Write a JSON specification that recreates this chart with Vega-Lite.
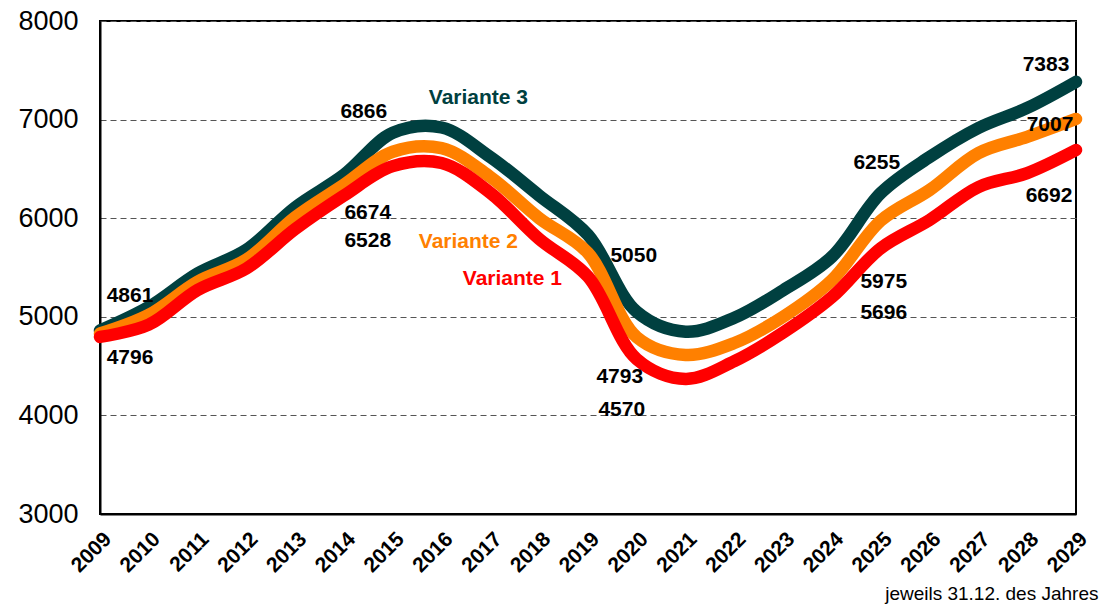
{
  "$schema": "https://vega.github.io/schema/vega-lite/v6.json",
  "width": 976,
  "height": 493,
  "autosize": "none",
  "padding": {"left": 100, "top": 21, "right": 25, "bottom": 92},
  "background": "white",
  "config": {
    "font": "Liberation Sans",
    "view": {"stroke": "black", "strokeWidth": 2}
  },
  "data": {
    "values": [
      {"series": "Variante 3", "year": 2009, "value": 4861},
      {"series": "Variante 3", "year": 2010, "value": 5100},
      {"series": "Variante 3", "year": 2011, "value": 5440},
      {"series": "Variante 3", "year": 2012, "value": 5680},
      {"series": "Variante 3", "year": 2013, "value": 6110},
      {"series": "Variante 3", "year": 2014, "value": 6440},
      {"series": "Variante 3", "year": 2015, "value": 6866},
      {"series": "Variante 3", "year": 2016, "value": 6920},
      {"series": "Variante 3", "year": 2017, "value": 6620},
      {"series": "Variante 3", "year": 2018, "value": 6230},
      {"series": "Variante 3", "year": 2019, "value": 5830},
      {"series": "Variante 3", "year": 2020, "value": 5050},
      {"series": "Variante 3", "year": 2021, "value": 4849},
      {"series": "Variante 3", "year": 2022, "value": 4990},
      {"series": "Variante 3", "year": 2023, "value": 5270},
      {"series": "Variante 3", "year": 2024, "value": 5610},
      {"series": "Variante 3", "year": 2025, "value": 6255},
      {"series": "Variante 3", "year": 2026, "value": 6620},
      {"series": "Variante 3", "year": 2027, "value": 6915},
      {"series": "Variante 3", "year": 2028, "value": 7118},
      {"series": "Variante 3", "year": 2029, "value": 7383},
      {"series": "Variante 2", "year": 2009, "value": 4830},
      {"series": "Variante 2", "year": 2010, "value": 5020},
      {"series": "Variante 2", "year": 2011, "value": 5356},
      {"series": "Variante 2", "year": 2012, "value": 5580},
      {"series": "Variante 2", "year": 2013, "value": 6010},
      {"series": "Variante 2", "year": 2014, "value": 6340},
      {"series": "Variante 2", "year": 2015, "value": 6674},
      {"series": "Variante 2", "year": 2016, "value": 6710},
      {"series": "Variante 2", "year": 2017, "value": 6418},
      {"series": "Variante 2", "year": 2018, "value": 6000},
      {"series": "Variante 2", "year": 2019, "value": 5647},
      {"series": "Variante 2", "year": 2020, "value": 4793},
      {"series": "Variante 2", "year": 2021, "value": 4613},
      {"series": "Variante 2", "year": 2022, "value": 4734},
      {"series": "Variante 2", "year": 2023, "value": 5001},
      {"series": "Variante 2", "year": 2024, "value": 5373},
      {"series": "Variante 2", "year": 2025, "value": 5975},
      {"series": "Variante 2", "year": 2026, "value": 6286},
      {"series": "Variante 2", "year": 2027, "value": 6660},
      {"series": "Variante 2", "year": 2028, "value": 6825},
      {"series": "Variante 2", "year": 2029, "value": 7007},
      {"series": "Variante 1", "year": 2009, "value": 4796},
      {"series": "Variante 1", "year": 2010, "value": 4920},
      {"series": "Variante 1", "year": 2011, "value": 5272},
      {"series": "Variante 1", "year": 2012, "value": 5490},
      {"series": "Variante 1", "year": 2013, "value": 5890},
      {"series": "Variante 1", "year": 2014, "value": 6230},
      {"series": "Variante 1", "year": 2015, "value": 6528},
      {"series": "Variante 1", "year": 2016, "value": 6560},
      {"series": "Variante 1", "year": 2017, "value": 6256},
      {"series": "Variante 1", "year": 2018, "value": 5790},
      {"series": "Variante 1", "year": 2019, "value": 5407},
      {"series": "Variante 1", "year": 2020, "value": 4570},
      {"series": "Variante 1", "year": 2021, "value": 4370},
      {"series": "Variante 1", "year": 2022, "value": 4550},
      {"series": "Variante 1", "year": 2023, "value": 4840},
      {"series": "Variante 1", "year": 2024, "value": 5200},
      {"series": "Variante 1", "year": 2025, "value": 5696},
      {"series": "Variante 1", "year": 2026, "value": 5982},
      {"series": "Variante 1", "year": 2027, "value": 6316},
      {"series": "Variante 1", "year": 2028, "value": 6458},
      {"series": "Variante 1", "year": 2029, "value": 6692}
    ]
  },
  "encoding": {
    "x": {
      "field": "year",
      "type": "quantitative",
      "scale": {"domain": [2009, 2029], "nice": false, "zero": false},
      "axis": {
        "values": [2009,2010,2011,2012,2013,2014,2015,2016,2017,2018,2019,2020,2021,2022,2023,2024,2025,2026,2027,2028,2029],
        "format": "d",
        "labelAngle": -45,
        "labelFontWeight": "bold",
        "labelFontSize": 21,
        "labelColor": "black",
        "labelPadding": 14,
        "ticks": false,
        "grid": false,
        "domainColor": "black",
        "domainWidth": 2,
        "title": "jeweils 31.12. des Jahres",
        "titleFontWeight": "normal",
        "titleFontSize": 19,
        "titleColor": "black",
        "titleAnchor": "end",
        "titleAlign": "right",
        "titleBaseline": "middle",
        "titleX": 998,
        "titleY": 79
      }
    },
    "y": {
      "field": "value",
      "type": "quantitative",
      "scale": {"domain": [3000, 8000], "nice": false, "zero": false},
      "axis": {
        "values": [3000, 4000, 5000, 6000, 7000, 8000],
        "format": "d",
        "labelFontSize": 27,
        "labelColor": "black",
        "labelPadding": 22,
        "ticks": false,
        "grid": true,
        "gridColor": "#555555",
        "gridDash": [6, 4],
        "gridWidth": 1,
        "domainColor": "black",
        "domainWidth": 2,
        "title": null
      }
    },
    "color": {
      "field": "series",
      "type": "nominal",
      "scale": {"domain": ["Variante 1", "Variante 2", "Variante 3"], "range": ["#FF0000", "#FF8000", "#004040"]},
      "legend": null
    }
  },
  "layer": [
    {"transform": [{"filter": "datum.series == 'Variante 3'"}], "mark": {"type": "line", "strokeWidth": 12.5, "interpolate": "catmull-rom", "strokeCap": "round", "strokeJoin": "round"}},
    {"transform": [{"filter": "datum.series == 'Variante 2'"}], "mark": {"type": "line", "strokeWidth": 12.5, "interpolate": "catmull-rom", "strokeCap": "round", "strokeJoin": "round"}},
    {"transform": [{"filter": "datum.series == 'Variante 1'"}], "mark": {"type": "line", "strokeWidth": 12.5, "interpolate": "catmull-rom", "strokeCap": "round", "strokeJoin": "round"}},
    {"transform": [{"filter": "datum.series == 'Variante 3' && datum.year == 2009"}], "mark": {"type": "text", "fontWeight": "bold", "fontSize": 21, "dx": 30, "dy": -35}, "encoding": {"text": {"field": "value", "type": "quantitative", "format": "d"}, "color": {"value": "black"}}},
    {"transform": [{"filter": "datum.series == 'Variante 1' && datum.year == 2009"}], "mark": {"type": "text", "fontWeight": "bold", "fontSize": 21, "dx": 30, "dy": 21}, "encoding": {"text": {"field": "value", "type": "quantitative", "format": "d"}, "color": {"value": "black"}}},
    {"transform": [{"filter": "datum.series == 'Variante 3' && datum.year == 2015"}], "mark": {"type": "text", "fontWeight": "bold", "fontSize": 21, "dx": -29, "dy": -21}, "encoding": {"text": {"field": "value", "type": "quantitative", "format": "d"}, "color": {"value": "black"}}},
    {"transform": [{"filter": "datum.series == 'Variante 2' && datum.year == 2015"}], "mark": {"type": "text", "fontWeight": "bold", "fontSize": 21, "dx": -25, "dy": 61}, "encoding": {"text": {"field": "value", "type": "quantitative", "format": "d"}, "color": {"value": "black"}}},
    {"transform": [{"filter": "datum.series == 'Variante 1' && datum.year == 2015"}], "mark": {"type": "text", "fontWeight": "bold", "fontSize": 21, "dx": -25, "dy": 75}, "encoding": {"text": {"field": "value", "type": "quantitative", "format": "d"}, "color": {"value": "black"}}},
    {"transform": [{"filter": "datum.series == 'Variante 3' && datum.year == 2020"}], "mark": {"type": "text", "fontWeight": "bold", "fontSize": 21, "dx": -3, "dy": -56}, "encoding": {"text": {"field": "value", "type": "quantitative", "format": "d"}, "color": {"value": "black"}}},
    {"transform": [{"filter": "datum.series == 'Variante 2' && datum.year == 2020"}], "mark": {"type": "text", "fontWeight": "bold", "fontSize": 21, "dx": -17, "dy": 40}, "encoding": {"text": {"field": "value", "type": "quantitative", "format": "d"}, "color": {"value": "black"}}},
    {"transform": [{"filter": "datum.series == 'Variante 1' && datum.year == 2020"}], "mark": {"type": "text", "fontWeight": "bold", "fontSize": 21, "dx": -15, "dy": 51}, "encoding": {"text": {"field": "value", "type": "quantitative", "format": "d"}, "color": {"value": "black"}}},
    {"transform": [{"filter": "datum.series == 'Variante 3' && datum.year == 2025"}], "mark": {"type": "text", "fontWeight": "bold", "fontSize": 21, "dx": -4, "dy": -30}, "encoding": {"text": {"field": "value", "type": "quantitative", "format": "d"}, "color": {"value": "black"}}},
    {"transform": [{"filter": "datum.series == 'Variante 2' && datum.year == 2025"}], "mark": {"type": "text", "fontWeight": "bold", "fontSize": 21, "dx": 3, "dy": 61}, "encoding": {"text": {"field": "value", "type": "quantitative", "format": "d"}, "color": {"value": "black"}}},
    {"transform": [{"filter": "datum.series == 'Variante 1' && datum.year == 2025"}], "mark": {"type": "text", "fontWeight": "bold", "fontSize": 21, "dx": 3, "dy": 65}, "encoding": {"text": {"field": "value", "type": "quantitative", "format": "d"}, "color": {"value": "black"}}},
    {"transform": [{"filter": "datum.series == 'Variante 3' && datum.year == 2029"}], "mark": {"type": "text", "fontWeight": "bold", "fontSize": 21, "dx": -30, "dy": -17}, "encoding": {"text": {"field": "value", "type": "quantitative", "format": "d"}, "color": {"value": "black"}}},
    {"transform": [{"filter": "datum.series == 'Variante 2' && datum.year == 2029"}], "mark": {"type": "text", "fontWeight": "bold", "fontSize": 21, "dx": -26, "dy": 6}, "encoding": {"text": {"field": "value", "type": "quantitative", "format": "d"}, "color": {"value": "black"}}},
    {"transform": [{"filter": "datum.series == 'Variante 1' && datum.year == 2029"}], "mark": {"type": "text", "fontWeight": "bold", "fontSize": 21, "dx": -27, "dy": 46}, "encoding": {"text": {"field": "value", "type": "quantitative", "format": "d"}, "color": {"value": "black"}}},
    {"transform": [{"filter": "datum.series == 'Variante 3' && datum.year == 2017"}], "mark": {"type": "text", "fontWeight": "bold", "fontSize": 21, "dx": -12, "dy": -59}, "encoding": {"text": {"field": "series", "type": "nominal"}}},
    {"transform": [{"filter": "datum.series == 'Variante 2' && datum.year == 2017"}], "mark": {"type": "text", "fontWeight": "bold", "fontSize": 21, "dx": -22, "dy": 65}, "encoding": {"text": {"field": "series", "type": "nominal"}}},
    {"transform": [{"filter": "datum.series == 'Variante 1' && datum.year == 2017"}], "mark": {"type": "text", "fontWeight": "bold", "fontSize": 21, "dx": 22, "dy": 86}, "encoding": {"text": {"field": "series", "type": "nominal"}}}
  ]
}
